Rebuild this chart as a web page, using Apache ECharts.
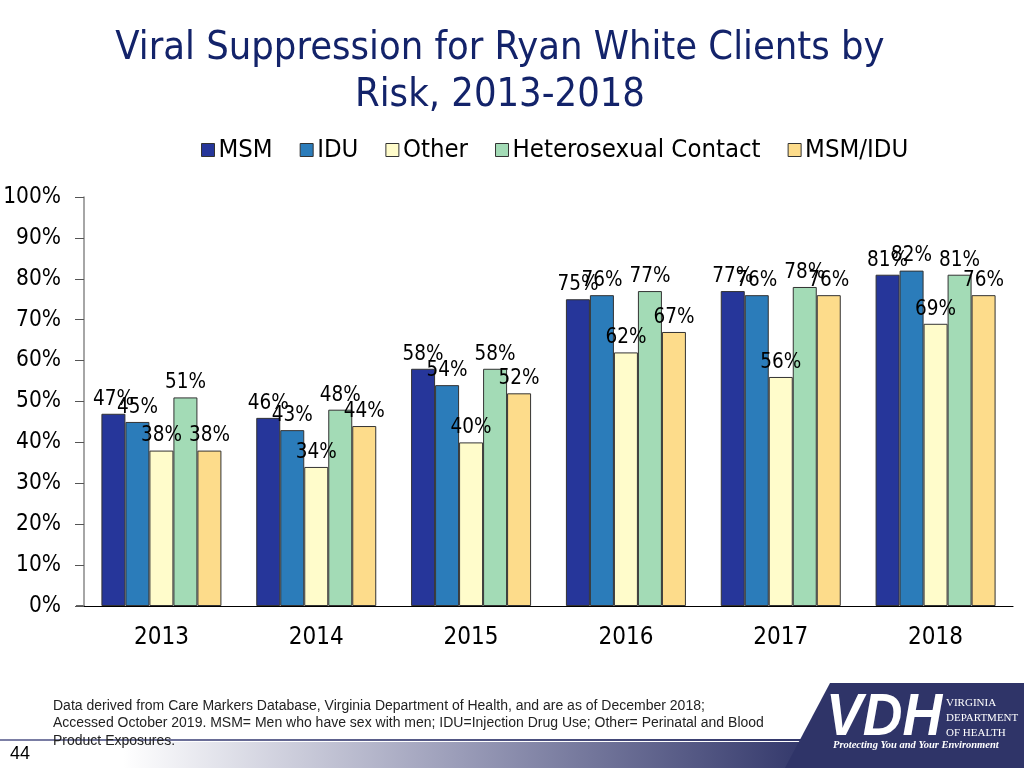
<!DOCTYPE html>
<html>
<head>
<meta charset="utf-8">
<script src="https://cdn.jsdelivr.net/npm/echarts@6/dist/echarts.min.js"></script>
<style>
html,body{margin:0;padding:0;background:#fff;}
#chart{width:1024px;height:768px;}
</style>
</head>
<body>
<div id="chart"></div>
<script>
var years = ['2013', '2014', '2015', '2016', '2017', '2018'];
var seriesNames = ['MSM', 'IDU', 'Other', 'Heterosexual Contact', 'MSM/IDU'];
var msm = [47, 46, 58, 75, 77, 81];
var idu = [45, 43, 54, 76, 76, 82];
var other = [38, 34, 40, 62, 56, 69];
var hetero = [51, 48, 58, 77, 78, 81];
var msmIdu = [38, 44, 52, 67, 76, 76];
var yTicks = [0, 10, 20, 30, 40, 50, 60, 70, 80, 90, 100];

var colors = ['#26369a', '#2b7cba', '#fffccb', '#a3dbb6', '#fddc8b'];
var FONT = '"DejaVu Sans Condensed", "DejaVu Sans", sans-serif';
var allData = [msm, idu, other, hetero, msmIdu];

var chart = echarts.init(document.getElementById('chart'));
var series = seriesNames.map(function (n, i) {
  return {
    name: n,
    type: 'bar',
    data: allData[i],
    barWidth: 24,
    barGap: '0%',
    itemStyle: { color: colors[i], borderColor: '#333', borderWidth: 1 },
    label: {
      show: true, position: 'top', distance: 4,
      formatter: '{c}%', color: '#000', fontSize: 20.5, fontFamily: FONT
    }
  };
});

chart.setOption({
  animation: false,
  color: colors,
  legend: {
    data: seriesNames,
    left: 196, top: 132,
    itemWidth: 13, itemHeight: 13, itemGap: 27,
    icon: 'rect',
    itemStyle: { borderColor: '#333', borderWidth: 1 },
    textStyle: { fontSize: 25.5, color: '#000', fontFamily: FONT, padding: [0, 0, 0, -1] }
  },
  grid: { left: 84, right: 11, top: 197, bottom: 162 },
  xAxis: {
    type: 'category', data: years,
    axisLine: { lineStyle: { color: '#000', width: 1.2 } },
    axisTick: { show: false },
    axisLabel: { fontSize: 24, color: '#000', margin: 20, fontFamily: FONT }
  },
  yAxis: {
    type: 'value', min: 0, max: 100, interval: 10,
    axisLine: { show: true, lineStyle: { color: '#888', width: 1.5 } },
    axisTick: { show: true, length: 9, lineStyle: { color: '#555' } },
    splitLine: { show: false },
    axisLabel: { formatter: function (v) { return yTicks.indexOf(v) >= 0 ? v + '%' : ''; },
      fontSize: 22.5, color: '#000', margin: 23, fontFamily: FONT }
  },
  series: series,
  graphic: [
    { type: 'line', shape: { x1: 76, y1: 606, x2: 85, y2: 606 }, style: { stroke: '#000', lineWidth: 1.2 } },
    { type: 'text', x: 500, y: 25,
      style: { text: 'Viral Suppression for Ryan White Clients by\nRisk, 2013-2018',
        textAlign: 'center', fill: '#13236a', fontSize: 39.5, lineHeight: 47, fontFamily: FONT } },
    { type: 'rect', shape: { x: 0, y: 742, width: 1024, height: 26 },
      style: { fill: new echarts.graphic.LinearGradient(0, 0, 1, 0, [
        { offset: 0, color: '#ffffff' }, { offset: 0.12, color: '#ffffff' },
        { offset: 0.45, color: '#9a9cb8' }, { offset: 0.8, color: '#2f3468' }, { offset: 1, color: '#2f3468' }]) } },
    { type: 'rect', shape: { x: 0, y: 739, width: 830, height: 2 },
      style: { fill: new echarts.graphic.LinearGradient(0, 0, 1, 0, [
        { offset: 0, color: '#7d80a6' }, { offset: 1, color: '#2f3468' }]) } },
    { type: 'polygon', shape: { points: [[785, 768], [830, 683], [1024, 683], [1024, 768]] },
      style: { fill: '#2f3468' } },
    { type: 'text', x: 826, y: 689, scaleY: 1.08, z: 20,
      style: { text: 'VDH', fill: '#fff', fontSize: 55, fontStyle: 'italic', fontWeight: 'bold',
        fontFamily: '"Liberation Sans", Arial, sans-serif' } },
    { type: 'text', x: 946, y: 696, z: 20,
      style: { text: 'VIRGINIA\nDEPARTMENT\nOF HEALTH', fill: '#fff', fontSize: 11, lineHeight: 15,
        fontFamily: '"Liberation Serif", serif' } },
    { type: 'text', x: 833, y: 740, z: 20,
      style: { text: 'Protecting You and Your Environment', fill: '#fff', fontSize: 10.5,
        fontStyle: 'italic', fontWeight: 'bold', fontFamily: '"Liberation Serif", serif' } },
    { type: 'text', x: 53, y: 697,
      style: { text: 'Data derived from Care Markers Database, Virginia Department of Health, and are as of December 2018;\nAccessed October 2019. MSM= Men who have sex with men; IDU=Injection Drug Use; Other= Perinatal and Blood\nProduct Exposures.',
        fill: '#222', fontSize: 14, lineHeight: 17.5, fontFamily: '"Liberation Sans", Arial, sans-serif' } },
    { type: 'text', x: 10, y: 745,
      style: { text: '44', fill: '#000', fontSize: 18, fontFamily: '"Liberation Sans", Arial, sans-serif' } }
  ]
});
</script>
</body>
</html>
